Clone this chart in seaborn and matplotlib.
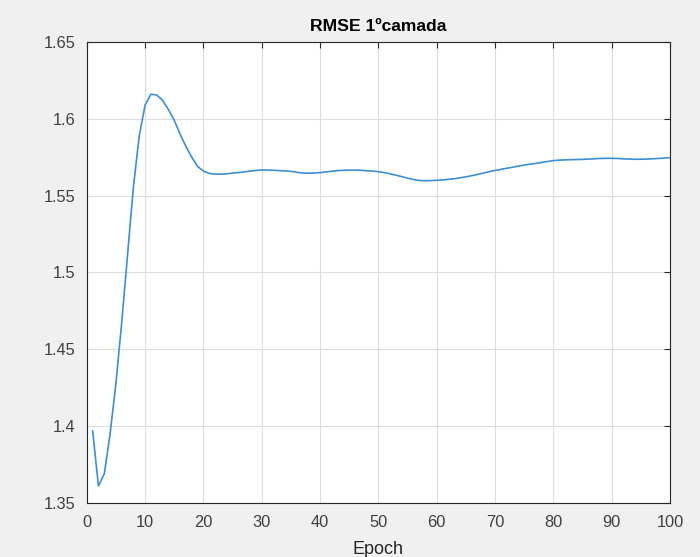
import matplotlib
matplotlib.use("Agg")
import matplotlib.pyplot as plt
import seaborn as sns
import pandas as pd
import numpy as np

epochs = list(range(1, 101))
rmse = [1.397, 1.361, 1.369, 1.395, 1.428, 1.468, 1.512, 1.556, 1.589, 1.609,
        1.616, 1.6155, 1.612, 1.606, 1.599, 1.590, 1.582, 1.575, 1.569, 1.566,
        1.5645, 1.564, 1.564, 1.5642, 1.5647, 1.565, 1.5655, 1.566, 1.5664, 1.5667,
        1.5667, 1.5665, 1.5663, 1.5661, 1.5658, 1.5652, 1.5647, 1.5646, 1.5647, 1.565,
        1.5654, 1.5659, 1.5663, 1.5665, 1.5666, 1.5666, 1.5665, 1.5662, 1.566, 1.5656,
        1.5650, 1.5642, 1.5633, 1.5624, 1.5614, 1.5605, 1.5599, 1.5597, 1.5598, 1.5600,
        1.5602, 1.5606, 1.5610, 1.5616, 1.5622, 1.5630, 1.5638, 1.5647, 1.5656, 1.5664,
        1.5671, 1.5678, 1.5685, 1.5692, 1.5699, 1.5705, 1.5710, 1.5716, 1.5722, 1.5728,
        1.5731, 1.5733, 1.5734, 1.5735, 1.5736, 1.5738, 1.5740, 1.5742, 1.5743, 1.5743,
        1.5742, 1.5740, 1.5738, 1.5737, 1.5737, 1.5738, 1.5740, 1.5742, 1.5745, 1.5747]
xticks = [0, 10, 20, 30, 40, 50, 60, 70, 80, 90, 100]
yticks = [1.35, 1.4, 1.45, 1.5, 1.55, 1.6, 1.65]
ytick_labels = ["1.35", "1.4", "1.45", "1.5", "1.55", "1.6", "1.65"]
title = "RMSE 1ºcamada"
xlabel = "Epoch"

sns.set_style("white")
plt.rcParams['font.family'] = ['Liberation Sans', 'DejaVu Sans']

df = pd.DataFrame({"Epoch": epochs, "RMSE": rmse})

fig = plt.figure(figsize=(7.0, 5.57), dpi=100, facecolor="#f0f0f0")
ax = fig.add_axes([0.124, 0.097, 0.833, 0.8276])
ax.set_facecolor("white")

sns.lineplot(data=df, x="Epoch", y="RMSE", ax=ax, color="#3b8fd4", linewidth=1.2)

ax.set_xlim(0, 100)
ax.set_ylim(1.35, 1.65)
ax.set_xticks(xticks)
ax.set_yticks(yticks)
ax.set_yticklabels(ytick_labels)
ax.grid(True, color="#dcdcdc", linewidth=0.8)
ax.set_axisbelow(True)
for s in ax.spines.values():
    s.set_color("#262626")
    s.set_linewidth(0.8)
    s.set_visible(True)
ax.tick_params(direction="in", length=4, width=0.8, colors="#262626",
               labelsize=11.8, top=True, right=True, labelcolor="#404040")
ax.tick_params(axis="x", pad=9)
ax.tick_params(axis="y", pad=8)
ax.set_title(title, fontsize=12.6, fontweight="bold", color="black", pad=8)
ax.set_xlabel(xlabel, fontsize=13, color="#262626")
ax.xaxis.label.set_va("baseline")
ax.xaxis.set_label_coords(0.5, -51.0 / 461.0)
ax.set_ylabel("")

fig.savefig("out.png", dpi=100, facecolor=fig.get_facecolor())
